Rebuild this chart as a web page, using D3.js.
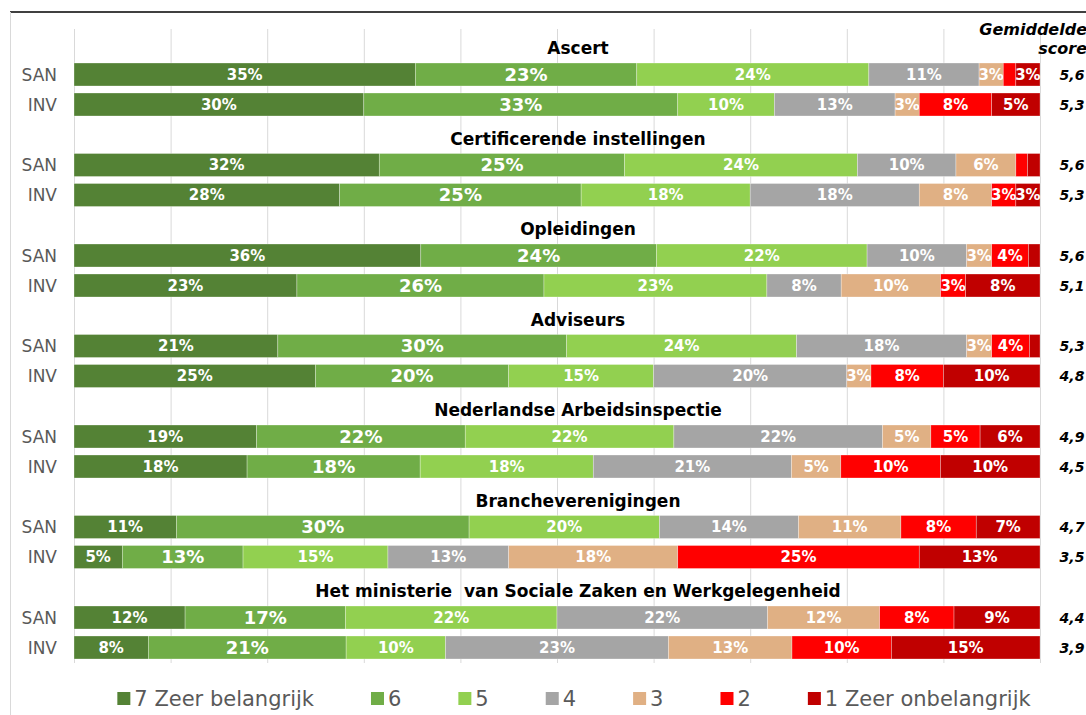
<!DOCTYPE html>
<html>
<head>
<meta charset="utf-8">
<script src="https://cdn.jsdelivr.net/npm/d3@7"></script>
<style>
  body { margin: 0; background: #fff; }
  svg { display: block; font-family: "DejaVu Sans", Verdana, sans-serif; }
</style>
</head>
<body>
<div id="chart-area"></div>
<script>
// data (percent per answer, per group and respondent type)
const groups = ["Ascert", "Certificerende instellingen", "Opleidingen", "Adviseurs",
  "Nederlandse Arbeidsinspectie", "Brancheverenigingen",
  "Het ministerie  van Sociale Zaken en Werkgelegenheid"]
const respondents = ["SAN", "INV"]
const answers = ["7 Zeer belangrijk", "6", "5", "4", "3", "2", "1 Zeer onbelangrijk"]

const sanValues = [
  [35.3, 22.9, 24.0, 11.4, 2.5, 1.3, 2.5],
  [31.6, 25.4, 24.1, 10.2, 6.2, 1.2, 1.3],
  [35.9, 24.4, 21.8, 10.3, 2.6, 3.8, 1.2],
  [21.1, 29.9, 23.8, 17.6, 2.6, 3.9, 1.1],
  [18.9, 21.6, 21.6, 21.6, 5.0, 5.1, 6.2],
  [10.6, 30.3, 19.7, 14.4, 10.6, 7.8, 6.6],
  [11.5, 16.6, 21.9, 21.8, 11.6, 7.7, 8.9]
]
const invValues = [
  [30.0, 32.5, 10.0, 12.5, 2.5, 7.5, 5.0],
  [27.5, 25.0, 17.5, 17.5, 7.5, 2.5, 2.5],
  [23.1, 25.6, 23.1, 7.7, 10.3, 2.6, 7.7],
  [25.0, 20.0, 15.0, 20.0, 2.5, 7.5, 10.0],
  [17.9, 17.9, 17.9, 20.5, 5.1, 10.3, 10.3],
  [5.0, 12.5, 15.0, 12.5, 17.5, 25.0, 12.5],
  [7.7, 20.5, 10.3, 23.1, 12.8, 10.3, 15.4]
]
const sanMean = ["5,6", "5,6", "5,6", "5,3", "4,9", "4,7", "4,4"]
const invMean = ["5,3", "5,3", "5,1", "4,8", "4,5", "3,5", "3,9"]

const COLORS = ["#548235", "#70ad47", "#92d050", "#a5a5a5", "#e0b084", "#ff0000", "#c00000"]

const WIDTH = 1086
const HEIGHT = 715

// build rows for the stack
const rows = []
groups.forEach((g, i) => {
  respondents.forEach(r => {
    const vals = r === "SAN" ? sanValues[i] : invValues[i]
    const row = {group: g, resp: r, mean: r === "SAN" ? sanMean[i] : invMean[i]}
    answers.forEach((a, j) => { row[a] = vals[j] })
    rows.push(row)
  })
})

const svg = d3.select("#chart-area").append("svg")
    .attr("width", WIDTH)
    .attr("height", HEIGHT)

// frame
svg.append("line")
  .attr("x1", 10).attr("x2", WIDTH).attr("y1", 12).attr("y2", 12)
  .attr("stroke", "#000").attr("stroke-width", 1.5)
svg.append("line")
  .attr("x1", 10.5).attr("x2", 10.5).attr("y1", 12).attr("y2", HEIGHT)
  .attr("stroke", "#d9d9d9").attr("stroke-width", 1)

const x = d3.scaleLinear()
    .domain([0, 1])
    .range([74, 1040])

const yGroup = d3.scaleBand()
    .domain(groups)
    .range([63, 63 + 90.5 * groups.length])

const yResp = d3.scaleBand()
    .domain(respondents)
    .range([0, 53])
    .paddingInner(7 / 30)
    .paddingOuter(0)

const barY = d => yGroup(d.group) + yResp(d.resp)
const bh = yResp.bandwidth()

// gridlines
const gridCall = d3.axisTop(x)
    .ticks(10)
    .tickSize(-(663 - 29))
    .tickFormat("")
const grid = svg.append("g")
    .attr("class", "grid")
    .attr("transform", "translate(0, 29)")
    .call(gridCall)
grid.select(".domain").remove()
grid.selectAll("line").attr("stroke", "#d9d9d9").attr("stroke-width", 1)

// group titles
svg.append("g").selectAll("text")
  .data(groups)
  .enter().append("text")
    .attr("x", 578)
    .attr("y", d => yGroup(d) - 9)
    .attr("text-anchor", "middle")
    .attr("font-size", "17px")
    .attr("font-weight", "bold")
    .attr("fill", "#000")
    .style("white-space", "pre")
    .text(d => d)

// stacked bars
const stack = d3.stack()
    .keys(answers)
    .offset(d3.stackOffsetExpand)
const series = stack(rows)

const layers = svg.append("g").selectAll("g")
  .data(series)
  .enter().append("g")
    .attr("fill", (d, i) => COLORS[i])

layers.selectAll("rect")
  .data(d => d)
  .enter().append("rect")
    .attr("x", d => x(d[0]))
    .attr("y", d => barY(d.data))
    .attr("width", d => x(d[1]) - x(d[0]))
    .attr("height", bh)
    .attr("stroke", "#fff")
    .attr("stroke-opacity", 0.5)
    .attr("stroke-width", 0.6)

// data labels
layers.each(function(s, i) {
  d3.select(this).selectAll("text")
    .data(s.filter(d => d.data[s.key] >= 2.5))
    .enter().append("text")
      .attr("x", d => (x(d[0]) + x(d[1])) / 2)
      .attr("y", d => barY(d.data) + bh / 2)
      .attr("dy", "0.36em")
      .attr("text-anchor", "middle")
      .attr("font-size", i === 1 ? "18px" : "15px")
      .attr("font-weight", "bold")
      .attr("fill", "#fff")
      .text(d => Math.round(d.data[s.key]) + "%")
})

// SAN / INV labels
svg.append("g").selectAll("text")
  .data(rows)
  .enter().append("text")
    .attr("x", 57)
    .attr("y", d => barY(d) + bh / 2)
    .attr("dy", "0.36em")
    .attr("text-anchor", "end")
    .attr("font-size", "17px")
    .attr("fill", "#595959")
    .text(d => d.resp)

// mean score column
svg.append("text")
  .attr("x", 1087).attr("y", 35)
  .attr("text-anchor", "end")
  .attr("font-size", "16px").attr("font-weight", "bold").attr("font-style", "italic")
  .text("Gemiddelde")
svg.append("text")
  .attr("x", 1087).attr("y", 54)
  .attr("text-anchor", "end")
  .attr("font-size", "16px").attr("font-weight", "bold").attr("font-style", "italic")
  .text("score")

svg.append("g").selectAll("text")
  .data(rows)
  .enter().append("text")
    .attr("x", 1072)
    .attr("y", d => barY(d) + bh / 2)
    .attr("dy", "0.36em")
    .attr("text-anchor", "middle")
    .attr("font-size", "14px")
    .attr("font-weight", "bold")
    .attr("font-style", "italic")
    .attr("fill", "#000")
    .text(d => d.mean)

// legend
const legend = svg.append("g")
const items = legend.selectAll("g")
  .data(answers)
  .enter().append("g")
items.append("rect")
  .attr("width", 13).attr("height", 13)
  .attr("y", 692)
  .attr("fill", (d, i) => COLORS[i])
items.append("text")
  .attr("x", 17)
  .attr("y", 706)
  .attr("font-size", "21px")
  .attr("fill", "#595959")
  .text(d => d)

let pos = 0
const offsets = []
items.each(function() {
  offsets.push(pos)
  pos += 17 + d3.select(this).select("text").node().getComputedTextLength() + 57
})
const total = pos - 57
const start = 574 - total / 2
items.attr("transform", (d, i) => `translate(${start + offsets[i]}, 0)`)
</script>
</body>
</html>
